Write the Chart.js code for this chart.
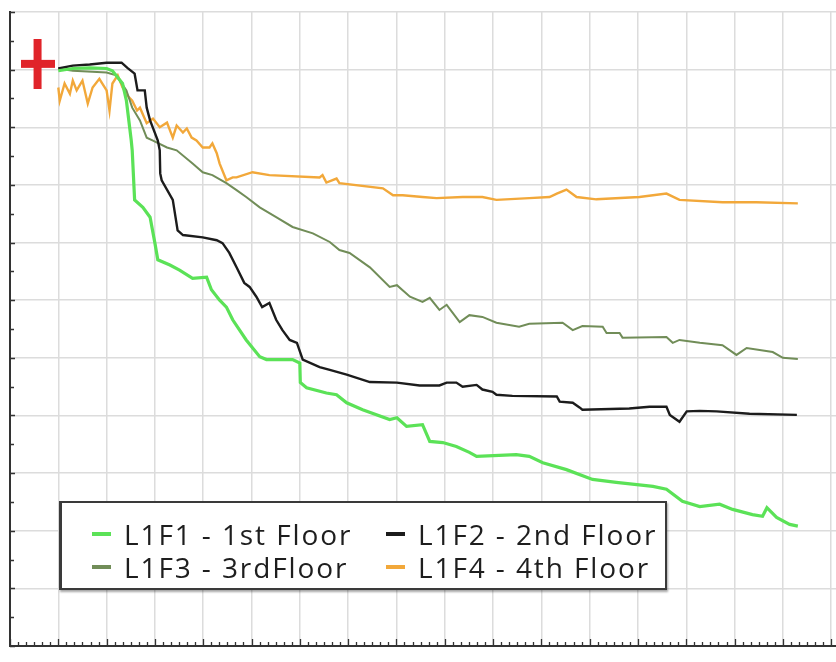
<!DOCTYPE html>
<html>
<head>
<meta charset="utf-8">
<title>L1F floors</title>
<script src="https://cdn.jsdelivr.net/npm/chart.js@4.4.1/dist/chart.umd.min.js"></script>
<style>
  html, body { margin: 0; padding: 0; background: #fff; }
  #wrap { position: relative; width: 836px; height: 662px; }
  #legend {
    position: absolute; left: 59px; top: 501px; width: 608px; height: 89px;
    box-sizing: border-box; border: 2px solid #3a3a3a; border-left-width: 3px;
    box-shadow: 1px 2px 2px rgba(0,0,0,0.35); background: #fff;
    padding: 14px 0 0 30px;
    display: grid; grid-template-columns: 294px 280px; grid-auto-rows: 33px;
    font-family: "Open Sans", sans-serif; font-size: 28px; color: #1e1e1e;
  }
  .item { display: flex; align-items: center; white-space: nowrap; letter-spacing: 1.9px; }
  .sw { display: inline-block; width: 19px; height: 4px; margin-right: 13px; }
</style>
</head>
<body>
<div id="wrap">
  <canvas id="c" width="836" height="662"></canvas>
  <div id="legend"></div>
</div>
<script>
// ---- data ----
const labels = ['L1F1 - 1st Floor', 'L1F2 - 2nd Floor', 'L1F3 - 3rdFloor', 'L1F4 - 4th Floor'];
const colors = ['#5be257', '#1c1c1c', '#718d58', '#f2a83a'];

const f1X = [1.00,1.30,1.65,2.00,2.12,2.33,2.41,2.51,2.53,2.58,2.75,2.90,3.00,3.06,3.31,3.51,3.78,4.07,4.17,4.34,4.48,4.61,4.89,5.17,5.31,5.85,6.00,6.01,6.14,6.55,6.76,6.97,7.30,7.86,8.01,8.21,8.54,8.69,8.96,9.24,9.51,9.66,10.48,10.75,11.03,11.52,12.06,12.55,13.31,13.59,13.92,14.28,14.69,14.96,15.37,15.58,15.67,15.87,16.14,16.31];
const f1Y = [9.98,10.02,10.03,10.02,9.98,9.76,9.46,8.77,8.60,7.74,7.61,7.44,6.99,6.70,6.61,6.52,6.38,6.40,6.18,6.00,5.88,5.66,5.31,5.02,4.97,4.97,4.91,4.57,4.48,4.39,4.36,4.22,4.10,3.93,3.96,3.81,3.84,3.55,3.53,3.46,3.36,3.29,3.32,3.29,3.18,3.06,2.89,2.84,2.77,2.72,2.51,2.42,2.46,2.37,2.28,2.25,2.40,2.23,2.11,2.08];

const f2X = [1.00,1.30,1.65,2.00,2.31,2.43,2.58,2.64,2.79,2.83,2.90,3.06,3.10,3.11,3.14,3.37,3.47,3.58,3.99,4.28,4.40,4.54,4.69,4.85,4.96,5.10,5.22,5.37,5.51,5.64,5.79,5.94,6.06,6.41,6.62,6.97,7.45,8.01,8.48,8.89,9.04,9.24,9.37,9.66,9.78,9.99,10.07,10.40,11.32,11.38,11.65,11.79,11.85,12.82,13.24,13.59,13.66,13.86,14.01,14.28,14.63,15.31,16.29];
const f2Y = [10.02,10.07,10.09,10.12,10.12,10.03,9.93,9.64,9.64,9.34,9.12,8.77,8.60,8.20,8.08,7.74,7.21,7.13,7.09,7.04,6.99,6.82,6.57,6.30,6.23,6.06,5.88,5.95,5.66,5.48,5.31,5.26,4.97,4.84,4.79,4.71,4.58,4.57,4.52,4.52,4.57,4.57,4.50,4.53,4.45,4.41,4.36,4.34,4.33,4.24,4.22,4.14,4.10,4.12,4.15,4.15,4.01,3.89,4.07,4.08,4.07,4.03,4.01];

const f3X = [1.00,1.30,2.00,2.20,2.41,2.53,2.69,2.83,2.96,3.25,3.45,3.78,3.99,4.19,4.48,4.69,4.89,5.17,5.51,5.85,6.27,6.62,6.82,7.03,7.45,7.86,8.01,8.28,8.54,8.69,8.89,9.04,9.31,9.51,9.78,10.07,10.54,10.75,11.44,11.65,11.85,12.27,12.35,12.62,12.68,13.59,13.72,13.86,14.28,14.75,15.04,15.25,15.79,16.00,16.31];
const f3Y = [10.02,9.98,9.95,9.90,9.64,9.34,9.12,8.82,8.77,8.65,8.60,8.37,8.22,8.17,8.03,7.91,7.79,7.61,7.44,7.27,7.16,7.01,6.87,6.82,6.57,6.23,6.26,6.06,5.97,6.04,5.83,5.92,5.62,5.74,5.71,5.61,5.54,5.59,5.61,5.48,5.55,5.54,5.43,5.43,5.35,5.36,5.26,5.31,5.26,5.22,5.05,5.17,5.10,5.00,4.98];

const f4X = [1.00,1.03,1.13,1.24,1.30,1.38,1.50,1.61,1.71,1.85,2.00,2.06,2.12,2.23,2.33,2.43,2.53,2.63,2.69,2.83,2.96,3.10,3.25,3.37,3.45,3.58,3.66,3.76,3.86,3.99,4.13,4.19,4.28,4.34,4.48,4.61,4.69,5.02,5.37,6.41,6.47,6.55,6.76,6.82,7.72,7.93,8.13,8.54,8.83,9.37,9.78,10.07,10.75,11.17,11.32,11.52,11.73,12.14,13.03,13.59,13.86,14.75,15.45,16.31];
const f4Y = [9.69,9.46,9.76,9.58,9.81,9.64,9.81,9.41,9.69,9.84,9.64,9.29,9.76,9.90,9.69,9.55,9.46,9.29,9.34,9.07,9.15,9.00,9.08,8.82,9.03,8.91,8.98,8.82,8.77,8.65,8.65,8.72,8.55,8.37,8.08,8.13,8.13,8.22,8.17,8.13,8.17,8.04,8.11,8.03,7.94,7.82,7.82,7.79,7.77,7.79,7.79,7.74,7.77,7.79,7.85,7.92,7.79,7.75,7.79,7.85,7.74,7.70,7.70,7.68];

// red "+" start marker
const markerX = [0.57];
const markerY = [10.10];

// axis ranges (no tick labels in the picture)
const xMin = 0, xMax = 17.1, yMin = 0, yMax = 11;

const zip = (xs, ys) => xs.map((x, i) => ({ x: x, y: ys[i] }));

// red plus as a pointStyle image
function plusImage() {
  const c = document.createElement('canvas');
  c.width = 34; c.height = 50;
  const g = c.getContext('2d');
  g.fillStyle = '#e0242a';
  g.fillRect(0, 21, 34, 8);
  g.fillRect(13, 0, 8, 50);
  return c;
}

// inward tick marks on left & bottom axes
const innerTicks = {
  id: 'innerTicks',
  afterDraw(chart) {
    const { ctx, chartArea: a, scales: { x, y } } = chart;
    ctx.save();
    ctx.strokeStyle = '#333';
    ctx.lineWidth = 1.3;
    ctx.beginPath();
    for (let i = 0; i <= yMax * 2; i++) {
      const py = Math.round(y.getPixelForValue(i / 2)) + 0.5;
      const len = i % 2 ? 4 : 5;
      ctx.moveTo(a.left, py); ctx.lineTo(a.left + len, py);
    }
    for (let i = 0; i <= Math.floor(xMax * 6); i++) {
      const px = Math.round(x.getPixelForValue(i / 6)) + 0.5;
      if (px > a.right) break;
      const len = i % 6 ? 4 : 7;
      ctx.moveTo(px, a.bottom); ctx.lineTo(px, a.bottom - len);
    }
    ctx.stroke();
    ctx.restore();
  }
};

const series = [[f1X, f1Y], [f2X, f2Y], [f3X, f3Y], [f4X, f4Y]];
const widths = [3.2, 2.4, 2, 2.4];

const datasets = series.map((s, i) => ({
  label: labels[i],
  data: zip(s[0], s[1]),
  borderColor: colors[i],
  backgroundColor: colors[i],
  borderWidth: widths[i],
  pointRadius: 0,
  tension: 0,
  fill: false
}));

datasets.push({
  label: 'start',
  type: 'scatter',
  data: zip(markerX, markerY),
  pointStyle: plusImage(),
  pointRadius: 20,
  showLine: false
});

const chart = new Chart(document.getElementById('c'), {
  type: 'line',
  data: { datasets: datasets },
  options: {
    responsive: false,
    animation: false,
    devicePixelRatio: 1,
    layout: { autoPadding: false, padding: { left: 10, top: 12, right: 0, bottom: 16 } },
    plugins: { legend: { display: false }, tooltip: { enabled: false } },
    scales: {
      x: {
        type: 'linear', min: xMin, max: xMax,
        ticks: { display: false, stepSize: 1, includeBounds: false },
        grid: { color: '#dcdcdc', lineWidth: 1.5, drawTicks: false },
        border: { display: true, color: '#333', width: 2 }
      },
      y: {
        type: 'linear', min: yMin, max: yMax,
        ticks: { display: false, stepSize: 1 },
        grid: { color: '#dcdcdc', lineWidth: 1.5, drawTicks: false },
        border: { display: true, color: '#333', width: 2 }
      }
    }
  },
  plugins: [innerTicks]
});

// html legend built from the datasets
const legendEl = document.getElementById('legend');
chart.data.datasets.slice(0, 4).forEach(ds => {
  const it = document.createElement('div');
  it.className = 'item';
  const sw = document.createElement('span');
  sw.className = 'sw';
  sw.style.background = ds.borderColor;
  it.appendChild(sw);
  it.appendChild(document.createTextNode(ds.label));
  legendEl.appendChild(it);
});
</script>
</body>
</html>
